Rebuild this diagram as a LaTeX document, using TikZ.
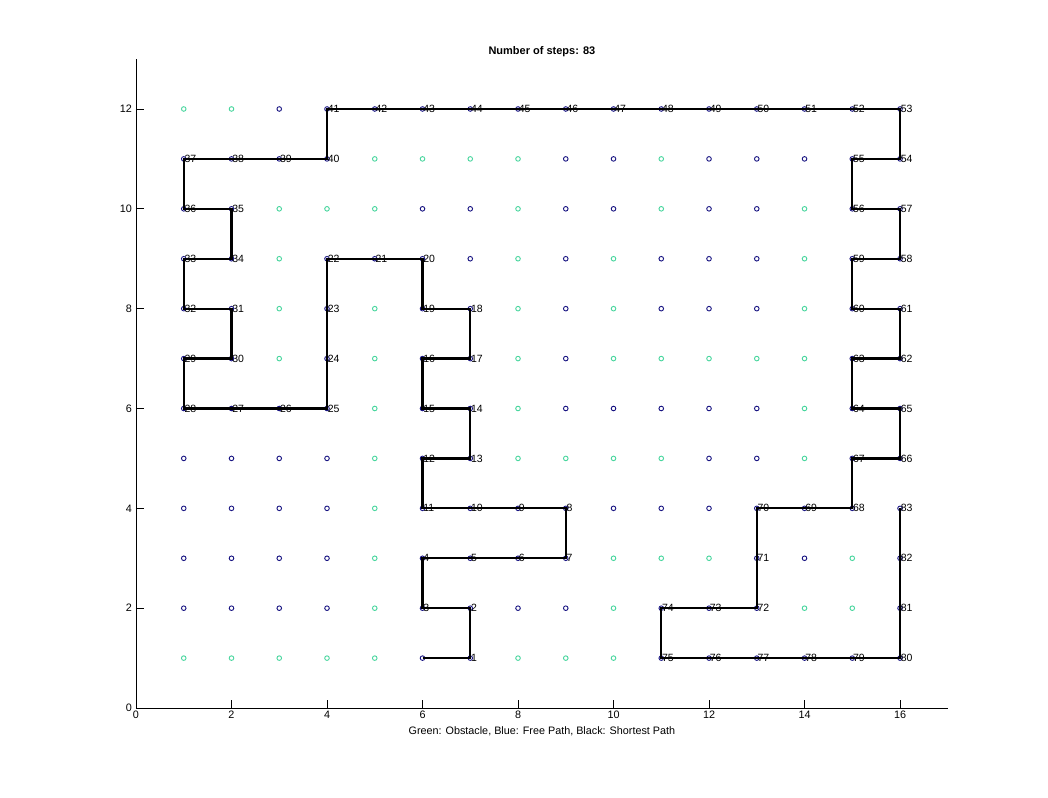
\documentclass[tikz,border=0pt]{standalone}
\usepackage{fontspec}
\setmainfont{Liberation Sans}
\usepackage{tikz}
\usepackage{xcolor}
\usetikzlibrary{arrows.meta, positioning, calc}
\definecolor{obstcol}{RGB}{72,214,158}
\definecolor{freecol}{RGB}{24,20,130}
\tikzset{
  gridpt/.style={circle,draw,line width=0.9pt,minimum size=4.6pt,inner sep=0pt},
  obstacle/.style={gridpt,draw=obstcol},
  freept/.style={gridpt,draw=freecol},
  shortpath/.style={line width=2.2pt,black,line join=miter},
  steplabel/.style={anchor=west,inner sep=0.6pt,font=\fontsize{10.5}{11}\selectfont},
  axisline/.style={line width=0.8pt,black},
  ticklabel/.style={font=\fontsize{10.8}{12}\selectfont,inner sep=0pt},
}

\begin{document}
\begin{tikzpicture}[x=47.75pt,y=49.92pt]
  \useasboundingbox[fill=white] (-2.848,-1.783) rectangle (19.099,14.183);
  % axes
  \coordinate (origin) at (0,0);
  \coordinate (xend) at (17,0);
  \coordinate (yend) at (0,13);
  \draw[axisline] (yend) -- (origin) -- (xend);
  \foreach \t in {0,2,...,16} {
    \draw[axisline] (\t,0) -- ++(0,8pt);
    \node[ticklabel,anchor=north] (xt\t) at ($(\t,0)+(0,-3pt)$) {\t};
  }
  \foreach \t in {0,2,...,12} {
    \draw[axisline] (0,\t) -- ++(8pt,0);
    \node[ticklabel,anchor=east] (yt\t) at ($(0,\t)+(-4pt,0)$) {\t};
  }
  \node[font=\bfseries\fontsize{11}{12}\selectfont] (title) at (8.5,13.15) {Number of steps: 83};
  \node[font=\fontsize{10.8}{12}\selectfont] (xlab) at (8.5,-0.46) {Green: Obstacle, Blue: Free Path, Black: Shortest Path};
  % obstacles
  \foreach \x/\y in {1/12,2/12, 5/11,6/11,7/11,8/11,11/11,
    3/10,4/10,5/10,8/10,11/10,14/10, 3/9,8/9,10/9,14/9,
    3/8,5/8,8/8,10/8,14/8, 3/7,5/7,8/7,10/7,11/7,12/7,13/7,14/7,
    5/6,8/6,14/6, 5/5,8/5,9/5,10/5,11/5,14/5, 5/4,
    5/3,10/3,11/3,12/3,15/3, 5/2,10/2,14/2,15/2,
    1/1,2/1,3/1,4/1,5/1,8/1,9/1,10/1}
    \node[obstacle] (o-\x-\y) at (\x,\y) {};
  % free cells
  \foreach \x/\y in {3/12, 9/11,10/11,12/11,13/11,14/11,
    6/10,7/10,9/10,10/10,12/10,13/10, 7/9,9/9,11/9,12/9,13/9,
    9/8,11/8,12/8,13/8, 9/7, 9/6,10/6,11/6,12/6,13/6,
    1/5,2/5,3/5,4/5,12/5,13/5, 1/4,2/4,3/4,4/4,10/4,11/4,12/4,
    1/3,2/3,3/3,4/3,14/3, 1/2,2/2,3/2,4/2,8/2,9/2}
    \node[freept] (f-\x-\y) at (\x,\y) {};
  % shortest path cells
  \foreach \x/\y [count=\i from 0] in {6/1,7/1,7/2,6/2,6/3,7/3,8/3,9/3,9/4,8/4,7/4,
    6/4,6/5,7/5,7/6,6/6,6/7,7/7,7/8,6/8,6/9,5/9,4/9,4/8,4/7,4/6,3/6,2/6,1/6,
    1/7,2/7,2/8,1/8,1/9,2/9,2/10,1/10,1/11,2/11,3/11,4/11,4/12,5/12,6/12,7/12,
    8/12,9/12,10/12,11/12,12/12,13/12,14/12,15/12,16/12,16/11,15/11,15/10,16/10,
    16/9,15/9,15/8,16/8,16/7,15/7,15/6,16/6,16/5,15/5,15/4,14/4,13/4,13/3,13/2,
    12/2,11/2,11/1,12/1,13/1,14/1,15/1,16/1,16/2,16/3,16/4}
    \node[freept] (p\i) at (\x,\y) {};
  \draw[shortpath] (p0.center) foreach \i in {1,...,83} { -- (p\i.center) };
  \foreach \i in {1,...,83}
    \node[steplabel] (l\i) at (p\i.center) {\i};
\end{tikzpicture}
\end{document}
